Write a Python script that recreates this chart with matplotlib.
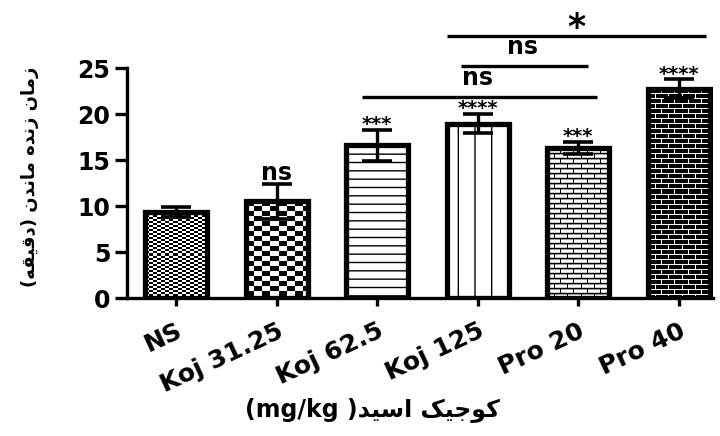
import numpy as np
import matplotlib
matplotlib.use("Agg")
import matplotlib.pyplot as plt

groups = ["NS", "Koj 31.25", "Koj 62.5", "Koj 125", "Pro 20", "Pro 40"]
means = [9.35, 10.5, 16.6, 18.95, 16.3, 22.75]
errs = [0.5, 1.9, 1.7, 1.0, 0.65, 1.0]
stars = ["", "ns", "***", "****", "***", "****"]

# comparison brackets: line start, line end, height, label
cmp_x0 = [1.85, 2.83, 2.69]
cmp_x1 = [4.19, 4.10, 5.27]
cmp_y = [21.85, 25.25, 28.5]
cmp_lab = ["ns", "ns", "*"]

# minimal persian shaping (matplotlib has no bidi / joining)
forms = {
    "ا": ("\uFE8D", "\uFE8E", None, None),
    "د": ("\uFEA9", "\uFEAA", None, None),
    "ز": ("\uFEAF", "\uFEB0", None, None),
    "و": ("\uFEED", "\uFEEE", None, None),
    "م": ("\uFEE1", "\uFEE2", "\uFEE3", "\uFEE4"),
    "ن": ("\uFEE5", "\uFEE6", "\uFEE7", "\uFEE8"),
    "ه": ("\uFEE9", "\uFEEA", "\uFEEB", "\uFEEC"),
    "ق": ("\uFED5", "\uFED6", "\uFED7", "\uFED8"),
    "ی": ("\uFBFC", "\uFBFD", "\uFBFE", "\uFBFF"),
    "ک": ("\uFB8E", "\uFB8F", "\uFB90", "\uFB91"),
    "ج": ("\uFE9D", "\uFE9E", "\uFE9F", "\uFEA0"),
    "س": ("\uFEB1", "\uFEB2", "\uFEB3", "\uFEB4"),
}

def shape(word):
    out = []
    for i, ch in enumerate(word):
        f = forms[ch]
        jp = i > 0 and forms[word[i - 1]][2] is not None
        jn = i + 1 < len(word) and f[2] is not None
        if jp and jn:
            g = f[3]
        elif jp:
            g = f[1]
        elif jn:
            g = f[2]
        else:
            g = f[0]
        out.append(g)
    return "".join(out[::-1])

def rtl(text):
    return " ".join(shape(w) for w in reversed(text.split()))

ylab = "(" + shape("دقیقه") + ") " + rtl("زمان زنده ماندن")
xlab = "(mg/kg )" + rtl("کوجیک اسید")

def checker(h, w, cw, ch):
    yy, xx = np.indices((h, w))
    return ((xx // cw + yy // ch) % 2).astype(float)

def bricks(h, w, bh, bw, rows, joint):
    yy, xx = np.indices((h, w))
    r = yy % bh
    arr = np.array(rows)[r]
    off = (yy // bh % 2) * (bw // 2)
    arr[((xx + off) % bw == 0) & (r > 0)] = joint
    return arr

plt.rcParams["font.family"] = ["DejaVu Sans"]
plt.rcParams["font.weight"] = "bold"
plt.rcParams["hatch.linewidth"] = 1.0

fig = plt.figure(figsize=(7.2, 4.36), dpi=100)
ax = fig.add_axes([127 / 720, 138 / 436, 586 / 720, 230 / 436])
ax.set_xlim(-0.49, 5.34)
ax.set_ylim(0, 25)

x = np.arange(len(groups))
bw_ = 0.62
hatches = [None, None, "--", "|", None, None]
bars = ax.bar(x, means, width=bw_, facecolor="white", edgecolor="black",
              linewidth=3.8, zorder=3)
for b, h in zip(bars, hatches):
    if h:
        b.set_hatch(h)
    else:
        b.set_facecolor("none")

# pixel scale for textures
p0 = ax.transData.transform((0, 0))
p1 = ax.transData.transform((1, 1))
sx, sy = p1 - p0
for i, b in enumerate(bars):
    if hatches[i]:
        continue
    w = max(int(round(bw_ * sx)), 1)
    h = max(int(round(means[i] * sy)), 1)
    if i == 0:
        tex = checker(h, w, 4, 2)
    elif i == 1:
        tex = checker(h, w, 8, 5)
    elif i == 4:
        tex = bricks(h, w, 5, 13, [0.0, 0.6, 1.0, 1.0, 0.8], 0.0)
    else:
        tex = bricks(h, w, 5, 13, [1.0, 0.0, 0.0, 0.0, 0.0], 1.0)
    im = ax.imshow(tex, cmap="gray", vmin=0, vmax=1, interpolation="nearest",
                   aspect="auto", extent=(b.get_x(), b.get_x() + bw_, 0, means[i]),
                   zorder=2)
    im.set_clip_path(b)
ax.set_xlim(-0.49, 5.34)
ax.set_ylim(0, 25)

ax.errorbar(x, means, yerr=errs, fmt="none", ecolor="black", elinewidth=2.4,
            capsize=11, capthick=2.6, zorder=4)

for i, s in enumerate(stars):
    top = means[i] + errs[i]
    if s == "ns":
        ax.text(x[i], top + 0.4, s, ha="center", va="baseline",
                fontsize=17, zorder=5)
    elif s:
        ax.text(x[i], top + 0.0, s, ha="center", va="baseline",
                fontsize=14, zorder=5)

for x0, x1, yv, lab in zip(cmp_x0, cmp_x1, cmp_y, cmp_lab):
    ax.plot([x0, x1], [yv, yv], color="black", lw=2.4, clip_on=False,
            solid_capstyle="butt")
    if lab == "*":
        ax.text((x0 + x1) / 2, yv - 0.2, lab, ha="center", va="baseline",
                fontsize=25, clip_on=False)
    else:
        ax.text((x0 + x1) / 2 - 0.02, yv + 1.25, lab, ha="center",
                va="baseline", fontsize=17, clip_on=False)

ax.spines["top"].set_visible(False)
ax.spines["right"].set_visible(False)
ax.spines["left"].set_linewidth(2.4)
ax.spines["bottom"].set_linewidth(2.4)
ax.set_yticks([0, 5, 10, 15, 20, 25])
ax.tick_params(axis="y", length=9, width=2.4, labelsize=17, pad=3)
ax.tick_params(axis="x", length=6, width=2.4, labelsize=18, pad=9)
ax.set_xticks(x)
ax.set_xticklabels(groups, rotation=25, ha="right", va="top",
                   rotation_mode="anchor")

fig.text(30 / 720, 1 - 177 / 436, ylab, rotation=90, ha="center", va="center",
         fontsize=13)
fig.text(372 / 720, 1 - 410 / 436, xlab, ha="center", va="center",
         fontsize=17)

fig.savefig("out.png", dpi=100)
